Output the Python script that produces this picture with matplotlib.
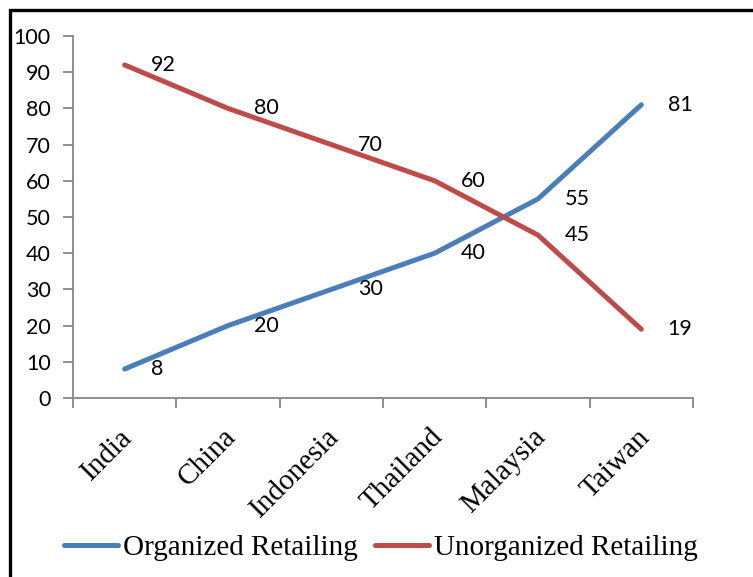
import matplotlib
matplotlib.use('Agg')
import matplotlib.pyplot as plt
from matplotlib.patches import Rectangle
from matplotlib.transforms import ScaledTranslation

countries = ['India', 'China', 'Indonesia', 'Thailand', 'Malaysia', 'Taiwan']
organized = [8, 20, 30, 40, 55, 81]
unorganized = [92, 80, 70, 60, 45, 19]
yticks = list(range(0, 101, 10))

blue = '#4A7EBB'
red = '#BE4B48'
grey = '#868686'

fig = plt.figure(figsize=(7.53, 5.77), dpi=100)
ax = fig.add_axes([73 / 753, 1 - 398 / 577, 620 / 753, 362 / 577])

x = list(range(len(countries)))
ax.plot(x, organized, color=blue, lw=3.6, solid_capstyle='round', label='Organized Retailing')
ax.plot(x, unorganized, color=red, lw=3.6, solid_capstyle='round', label='Unorganized Retailing')

# data labels to the right of each point
for xi, v in zip(x, organized):
    ax.annotate(str(v), (xi, v), xytext=(19, 0), textcoords='offset points',
                ha='left', va='center', fontsize=15.5, family='Lato')
for xi, v in zip(x, unorganized):
    ax.annotate(str(v), (xi, v), xytext=(19, 0), textcoords='offset points',
                ha='left', va='center', fontsize=15.5, family='Lato')

ax.set_xlim(-0.5, 5.5)
ax.set_ylim(0, 100)
ax.set_yticks(yticks)
ax.set_yticklabels([str(t) for t in yticks], family='Lato', fontsize=15.5)
ax.set_xticks([i - 0.5 for i in range(len(countries) + 1)])
ax.set_xticklabels([])

# category names, rotated, hung below each point position
shift = ScaledTranslation(-5 / 100, -26 / 100, fig.dpi_scale_trans)
for xi, name in zip(x, countries):
    ax.text(xi, 0, name, transform=ax.get_xaxis_transform() + shift,
            rotation=45, ha='right', va='top', rotation_mode='anchor',
            family='Liberation Serif', fontsize=21)

ax.tick_params(axis='both', which='major', length=7, width=1.3, color=grey, direction='out')
ax.tick_params(axis='y', pad=9)

for s in ['top', 'right']:
    ax.spines[s].set_visible(False)
for s in ['left', 'bottom']:
    ax.spines[s].set_color(grey)
    ax.spines[s].set_linewidth(1.3)

fig.legend(loc='center', bbox_to_anchor=(381 / 753, 1 - 548 / 577), ncol=2, frameon=False,
           prop={'family': 'Liberation Serif', 'size': 21}, handlelength=1.85,
           handletextpad=0.17, columnspacing=0.58)

fig.add_artist(Rectangle((9.5 / 753, -0.1), 1.2, 0.1 + 1 - 10 / 577, transform=fig.transFigure,
                         fill=False, lw=2.4, ec='black'))

fig.savefig('out.png', dpi=100)
